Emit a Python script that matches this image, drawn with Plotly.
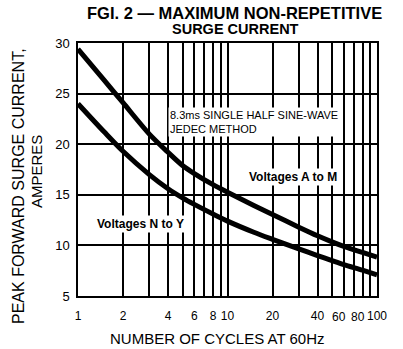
import math
import plotly.graph_objects as go

# values (log x axis)
cycles = [1, 1.5, 2, 3, 4, 5, 6, 8, 10, 15, 20, 30, 40, 50, 60, 80, 100]
amps_a_to_m = [29.4, 26.3, 24.1, 21.0, 19.2, 17.9, 17.1, 16.0, 15.25, 13.95, 13.05, 11.8, 10.95, 10.35, 9.9, 9.3, 8.85]
amps_n_to_y = [24.0, 21.2, 19.3, 17.0, 15.6, 14.7, 14.05, 13.1, 12.4, 11.3, 10.6, 9.65, 9.0, 8.5, 8.1, 7.55, 7.1]

x_grid = [1, 2, 3, 4, 5, 6, 7, 8, 9, 10, 20, 30, 40, 50, 60, 70, 80, 90, 100]
# "60" and "80" are drawn separately, nudged left like in the print
x_labels = ['1', '2', '', '4', '', '6', '', '8', '', '10', '20', '', '40', '', '', '', '', '', '100']
x_nudged = [60, 80]
y_ticks = [5, 10, 15, 20, 25, 30]

FONT = 'Liberation Sans, Arial, sans-serif'

fig = go.Figure()

for amps in (amps_a_to_m, amps_n_to_y):
    fig.add_trace(go.Scatter(
        x=cycles, y=amps, mode='lines',
        line=dict(color='black', width=5, shape='spline', smoothing=0.8),
        showlegend=False, hoverinfo='skip'
    ))

fig.update_layout(
    width=403, height=349,
    margin=dict(l=78, r=26, t=43, b=53),
    paper_bgcolor='white', plot_bgcolor='white',
    font=dict(family=FONT, size=13, color='black'),
    xaxis=dict(
        type='log', range=[0, 2],
        tickvals=x_grid, ticktext=x_labels, tickangle=0,
        showgrid=True, gridcolor='black', gridwidth=1.5,
        showline=True, linecolor='black', linewidth=1.5, mirror=True,
        ticks='', ticklabelstandoff=8, zeroline=False, automargin=False,
        tickfont=dict(size=12)
    ),
    yaxis=dict(
        range=[5, 30], tickvals=y_ticks,
        showgrid=True, gridcolor='black', gridwidth=1.5,
        showline=True, linecolor='black', linewidth=1.5, mirror=True,
        ticks='', ticklabelstandoff=4, zeroline=False, automargin=False,
        tickfont=dict(size=13)
    ),
)

# helpers: page pixel -> paper coordinates
def px(x):
    return (x - 78) / 299

def py(y):
    return (296 - y) / 253

for v in x_nudged:
    fig.add_annotation(text=str(v), xref='x', yref='paper', x=math.log10(v), y=py(316.5),
                       xshift=-5, xanchor='center', yanchor='middle', showarrow=False,
                       font=dict(size=12))

# title, two lines
fig.add_annotation(text='<b>FGI. 2 — MAXIMUM NON-REPETITIVE</b>',
                   xref='paper', yref='paper', x=px(234), y=py(12.5),
                   xanchor='center', yanchor='middle', showarrow=False,
                   font=dict(size=16.5))
fig.add_annotation(text='<b>SURGE CURRENT</b>',
                   xref='paper', yref='paper', x=px(235), y=py(28.5),
                   xanchor='center', yanchor='middle', showarrow=False,
                   font=dict(size=14.5))

# axis titles
fig.add_annotation(text='NUMBER OF CYCLES AT 60Hz', xref='paper', yref='paper',
                   x=px(217), y=py(338), xanchor='center', yanchor='middle',
                   showarrow=False, font=dict(size=15))
fig.add_annotation(text='PEAK FORWARD SURGE CURRENT,', xref='paper', yref='paper',
                   x=px(18), y=py(186), xanchor='center', yanchor='middle',
                   textangle=-90, showarrow=False, font=dict(size=16))
fig.add_annotation(text='AMPERES', xref='paper', yref='paper',
                   x=px(37), y=py(172), xanchor='center', yanchor='middle',
                   textangle=-90, showarrow=False, font=dict(size=15))

# in-plot labels
fig.add_annotation(text='8.3ms SINGLE HALF SINE-WAVE<br>JEDEC METHOD', xref='paper', yref='paper',
                   x=px(168), y=py(122), xanchor='left', yanchor='middle',
                   align='left', showarrow=False, bgcolor='white', font=dict(size=11))
fig.add_annotation(text='<b>Voltages A to M</b>', xref='paper', yref='paper',
                   x=px(247), y=py(177), xanchor='left', yanchor='middle',
                   showarrow=False, bgcolor='white', font=dict(size=12))
fig.add_annotation(text='<b>Voltages N to Y</b>', xref='paper', yref='paper',
                   x=px(95), y=py(224), xanchor='left', yanchor='middle',
                   showarrow=False, bgcolor='white', font=dict(size=12))

# drop the default 8px page margin so the figure sits at the window's corner
fig.write_html('out.html', config={'displayModeBar': False},
               post_script="document.body.style.margin='0';")
